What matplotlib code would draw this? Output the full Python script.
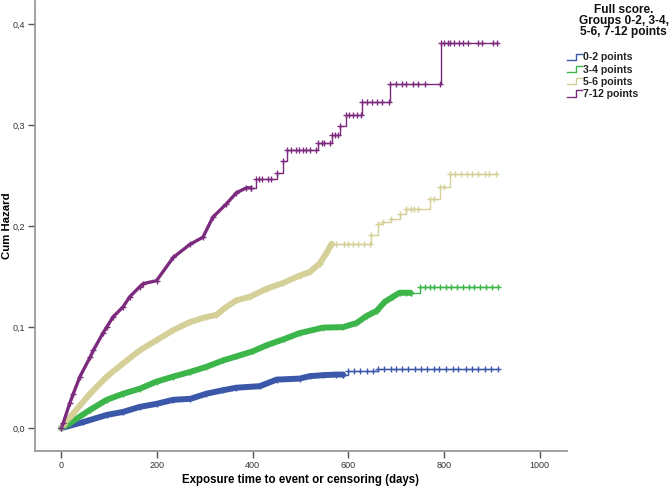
#! /usr/bin/env python3

import numpy as np
import matplotlib
matplotlib.use("Agg")
import matplotlib.pyplot as plt
from matplotlib.lines import Line2D

plt.rcParams['font.family'] = ['Liberation Sans', 'DejaVu Sans']

# cumulative hazard: (days, cum hazard), step after each time
t_02 = [0, 46, 95, 129, 164, 199, 234, 270, 303, 338, 366, 415, 450, 498, 519, 547,
        575, 589, 599, 612, 625, 640, 652, 662, 675, 690, 700, 712, 725, 740, 752,
        765, 780, 790, 805, 818, 830, 845, 858, 870, 885, 898, 913]
h_02 = [0, 0.006, 0.013, 0.016, 0.021, 0.024, 0.028, 0.029, 0.034, 0.0375, 0.040,
        0.0415, 0.048, 0.049, 0.0514, 0.0524, 0.053, 0.053, 0.0566, 0.0566, 0.0566,
        0.0566, 0.0566, 0.059, 0.059, 0.059, 0.059, 0.059, 0.059, 0.059, 0.059,
        0.059, 0.059, 0.059, 0.059, 0.059, 0.059, 0.059, 0.059, 0.059, 0.059, 0.059,
        0.059]

t_34 = [0, 18, 60, 95, 129, 164, 199, 234, 269, 303, 338, 366, 400, 429, 465, 498,
        547, 589, 617, 638, 659, 676, 693, 707, 720, 730, 749, 760, 770, 780, 792,
        805, 815, 828, 840, 852, 862, 875, 888, 900, 913]
h_34 = [0, 0.005, 0.018, 0.028, 0.034, 0.039, 0.046, 0.051, 0.0556, 0.0606, 0.067,
        0.071, 0.076, 0.082, 0.088, 0.094, 0.0995, 0.100, 0.104, 0.111, 0.116, 0.125,
        0.130, 0.134, 0.134, 0.134, 0.140, 0.140, 0.140, 0.140, 0.140, 0.140, 0.140,
        0.140, 0.140, 0.140, 0.140, 0.140, 0.140, 0.140, 0.140]

t_56 = [0, 25, 60, 95, 129, 164, 199, 234, 269, 303, 324, 345, 366, 394, 429, 463,
        498, 519, 540, 554, 565, 575, 590, 600, 610, 620, 632, 645, 648, 662, 673,
        690, 707, 721, 730, 738, 745, 770, 778, 791, 800, 812, 822, 835, 848, 858,
        870, 885, 895, 909]
h_56 = [0, 0.0145, 0.034, 0.051, 0.064, 0.077, 0.087, 0.097, 0.105, 0.110, 0.112,
        0.120, 0.1265, 0.130, 0.138, 0.1436, 0.151, 0.1545, 0.163, 0.173, 0.1825,
        0.1825, 0.1825, 0.1825, 0.1825, 0.1825, 0.1825, 0.1825, 0.191, 0.202, 0.204,
        0.207, 0.212, 0.217, 0.217, 0.217, 0.217, 0.227, 0.227, 0.2385, 0.2385,
        0.252, 0.252, 0.252, 0.252, 0.252, 0.252, 0.252, 0.252, 0.252]

t_712 = [0, 4, 18, 25, 39, 60, 67, 87, 95, 108, 129, 143, 164, 171, 199, 234, 269,
         296, 317, 345, 366, 387, 396, 406, 414, 420, 432, 439, 450, 463, 471, 480,
         490, 497, 505, 512, 520, 533, 537, 545, 550, 561, 565, 572, 578, 582, 596,
         602, 610, 618, 627, 629, 640, 650, 660, 670, 686, 688, 700, 712, 720, 735,
         745, 760, 791, 793, 800, 808, 812, 820, 832, 840, 850, 872, 880, 902, 910]
h_712 = [0, 0.005, 0.025, 0.034, 0.051, 0.070, 0.077, 0.094, 0.100, 0.110, 0.120,
         0.130, 0.140, 0.143, 0.146, 0.169, 0.182, 0.189, 0.209, 0.222, 0.233, 0.238,
         0.238, 0.247, 0.247, 0.247, 0.247, 0.247, 0.253, 0.265, 0.275, 0.275, 0.275,
         0.275, 0.275, 0.275, 0.275, 0.275, 0.282, 0.282, 0.282, 0.282, 0.290, 0.290,
         0.290, 0.299, 0.310, 0.310, 0.310, 0.310, 0.310, 0.323, 0.323, 0.323, 0.323,
         0.323, 0.323, 0.341, 0.341, 0.341, 0.341, 0.341, 0.341, 0.341, 0.341, 0.381,
         0.381, 0.381, 0.381, 0.381, 0.381, 0.381, 0.381, 0.381, 0.381, 0.381, 0.381]

groups = ['0-2 points', '3-4 points', '5-6 points', '7-12 points']
colors = ['#3b57a9', '#3cb64a', '#d5cf98', '#7b2a7e']
dense_end = [589, 730, 565, 396]   # censor marks merge into a band up to here
dense_lw = [4.3, 4.3, 4.3, 2.4]

x_ticks = [0, 200, 400, 600, 800, 1000]
y_ticks = [0.0, 0.1, 0.2, 0.3, 0.4]
y_tick_labels = ['0,0', '0,1', '0,2', '0,3', '0,4']

fig = plt.figure(figsize=(6.69, 4.86), dpi=100)
ax = fig.add_axes([0.0523, 0.072, 0.7952, 0.926])

curves = [(t_02, h_02), (t_34, h_34), (t_56, h_56), (t_712, h_712)]
for (t, h), col, dend, dlw in zip(curves, colors, dense_end, dense_lw):
    t = np.array(t)
    h = np.array(h)
    d = t <= dend
    s = t >= dend
    # the dense part: tiny steps + censor marks look like a thick band
    ax.plot(t[d], h[d], color=col, lw=dlw, solid_capstyle='round',
            solid_joinstyle='round', zorder=2)
    ax.plot(t[d], h[d], ls='none', marker='+', ms=5.0, mew=1.0, color=col,
            zorder=3)
    ax.step(t[s], h[s], where='post', color=col, lw=1.0, zorder=2)
    ax.plot(t[s], h[s], ls='none', marker='+', ms=4.5, mew=1.0, color=col,
            zorder=3)

ax.set_xlim(-55, 1057)
ax.set_ylim(-0.0227, 0.423)
ax.set_xticks(x_ticks)
ax.set_yticks(y_ticks)
ax.set_yticklabels(y_tick_labels)

for s in ['top', 'right']:
    ax.spines[s].set_visible(False)
for s in ['left', 'bottom']:
    ax.spines[s].set_color('#9a9a9a')
    ax.spines[s].set_linewidth(1.3)
ax.tick_params(colors='#555555', labelcolor='#333333', labelsize=6.5,
               length=5, width=1.0, direction='out', pad=2)

ax.set_xlabel('Exposure time to event or censoring (days)', fontsize=8.3,
              fontweight='bold', va='center')
ax.xaxis.set_label_coords(0.5, -0.064)
ax.set_ylabel('Cum Hazard', fontsize=8.2, fontweight='bold', va='center')
ax.yaxis.set_label_coords(-0.053, 0.5)

# legend, drawn by hand to get the step shaped keys
fig.text(0.932, 0.992, 'Full score.\nGroups 0-2, 3-4,\n5-6, 7-12 points',
         ha='center', va='top', fontsize=8.6, fontweight='bold',
         linespacing=0.88, color='#111111')
W, H = 669, 486
for i, (g, col) in enumerate(zip(groups, colors)):
    yc = 57.5 + i * 12
    xs = np.array([567, 576, 576, 582]) / W
    ys = 1 - np.array([yc + 3, yc + 3, yc - 3, yc - 3]) / H
    fig.add_artist(Line2D(xs, ys, transform=fig.transFigure, color=col, lw=1))
    fig.text(583 / W, 1 - yc / H, g, ha='left', va='center', fontsize=7.6,
             fontweight='bold', color='#222222')

fig.savefig('out.png', dpi=100)
